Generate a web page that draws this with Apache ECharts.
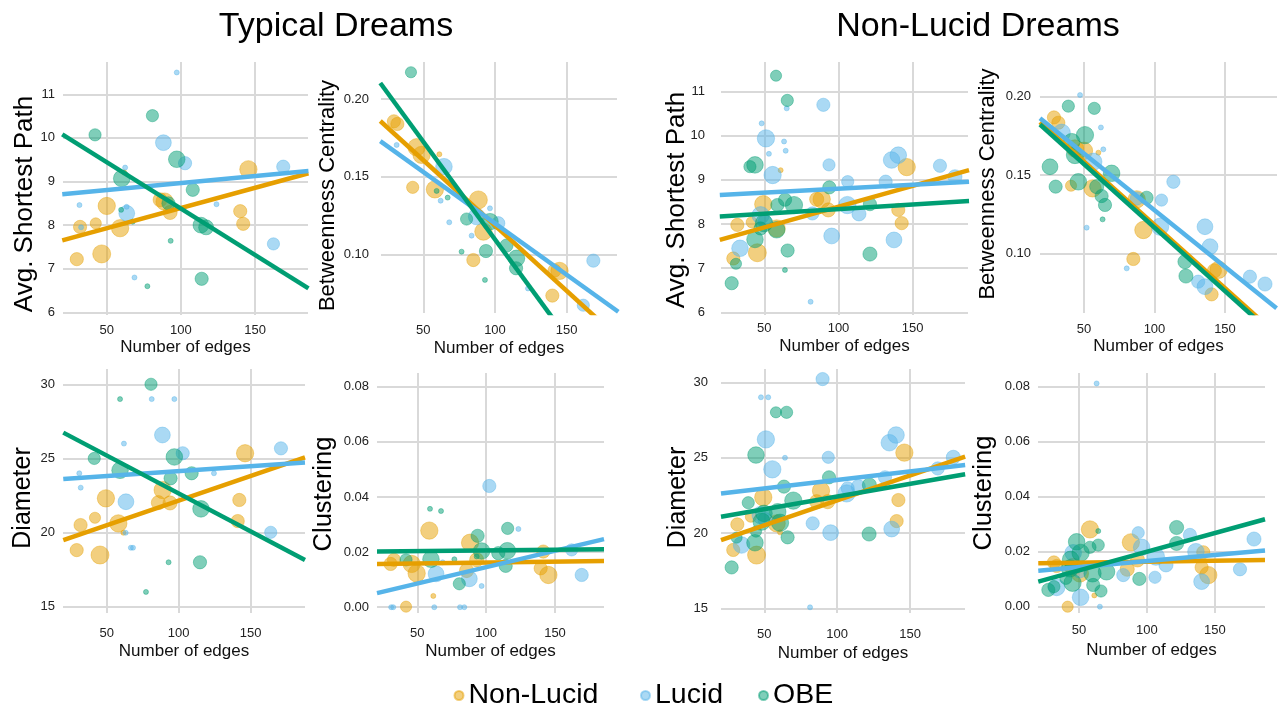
<!DOCTYPE html>
<html>
<head>
<meta charset="utf-8">
<title>Dream network metrics</title>
<script src="https://cdn.jsdelivr.net/npm/echarts@6/dist/echarts.min.js"></script>
<style>
  html, body { margin: 0; padding: 0; background: #fff; }
  #chart { width: 1282px; height: 708px; }
</style>
</head>
<body>
<div id="chart"></div>
<script>
// each point: [number of edges, metric value, weight (point size)]
var groups = ['Non-Lucid', 'Lucid', 'OBE'];
var edgeTicks = [50, 100, 150];
var aspTicks = [6, 7, 8, 9, 10, 11];
var bcTicks = [0.10, 0.15, 0.20];
var diamTicks = [15, 20, 25, 30];
var clusTicks = [0, 0.02, 0.04, 0.06, 0.08];

// ---- Typical dreams ----
var typAspNL = [[29.8,7.22,7],[32,7.96,7],[42.6,8.04,5],[46.6,7.34,13],[50,8.44,12],[59,7.93,12],[61.7,9.21,1],[86,8.58,8],[89,8.54,12],[92.7,8.29,8],[140,8.32,7],[142,8.03,7],[145.5,9.28,12]];
var typAspLU = [[31.6,8.46,1],[32.7,7.95,1],[62.4,9.32,1],[63.5,8.27,10],[63.4,8.42,1],[68.7,6.80,1],[88.2,9.89,10],[97.2,11.5,1],[102.8,9.42,7],[124,8.48,1],[162.4,7.57,6],[169,9.34,7]];
var typAspOBE = [[42.1,10.07,6],[80.8,10.51,6],[60.1,9.07,11],[59.7,8.35,1],[67.5,8.08,1],[97.2,9.51,11],[108,8.81,7],[91.6,8.5,7],[93.1,7.64,1],[77.4,6.6,1],[114,6.77,7],[113.5,8.0,10],[117,7.95,9]];
var typAspFit = [[[20,7.65],[186,9.19]], [[20,8.71],[186,9.24]], [[20,10.08],[186,6.55]]];

var typBcNL = [[29.5,0.1856,7],[31.9,0.1839,7],[42.6,0.1431,6],[45.3,0.1689,12],[48.8,0.164,12],[58.1,0.1418,12],[61.2,0.1644,1],[84.9,0.0963,7],[88.4,0.135,13],[91.9,0.1146,12],[140,0.0734,7],[141.5,0.0895,7],[145,0.0893,12]];
var typBcLU = [[31.4,0.1704,1],[64.4,0.1564,11],[62.1,0.1345,1],[68.1,0.1206,1],[83.7,0.112,1],[96.5,0.1296,1],[102.3,0.12,7],[87.2,0.1243,11],[123,0.078,1],[161.6,0.0672,6],[168.6,0.0959,7]];
var typBcOBE = [[41.4,0.2172,5],[59.3,0.1408,1],[67,0.1365,1],[80.2,0.1227,6],[76.7,0.1017,1],[93,0.0835,1],[93.7,0.1021,7],[96.5,0.121,11],[108,0.1056,7],[115,0.0974,11],[114.7,0.091,7]];
var typBcFit = [[[20,0.1858],[186,0.0462]], [[20,0.1729],[186,0.0630]], [[20,0.2103],[186,0.0013]]];

var typDiamNL = [[29.2,18.82,7],[31.9,20.51,7],[41.9,21.0,5],[45.4,18.49,13],[49.5,22.31,12],[58.1,20.62,12],[61.6,19.99,1],[85.9,22.02,8],[88.9,22.87,12],[94,22.0,8],[142.1,22.2,7],[141,20.78,7],[146.1,25.35,12]];
var typDiamLU = [[31,24.0,1],[32,23.03,1],[62,26.0,1],[63.4,22.08,10],[63.2,19.99,1],[66.8,18.98,1],[68.3,18.98,1],[81.3,29.0,1],[97,29.0,1],[88.7,26.58,10],[102.8,25.35,7],[124.5,24.0,1],[163.9,20.02,6],[171,25.68,7]];
var typDiamOBE = [[41.4,25.0,6],[59.3,29.0,1],[59.3,24.2,11],[80.8,30.0,6],[97,25.1,11],[94.4,23.66,7],[109,24.0,7],[93,18.0,1],[77.3,16.0,1],[114.8,18.0,7],[115.5,21.6,11]];
var typDiamFit = [[[19.9,19.5],[187.7,25.08]], [[19.9,23.61],[187.7,24.72]], [[19.9,26.74],[187.7,18.15]]];

var typClusNL = [[30.6,0.0157,7],[33,0.0172,7],[41.8,0.0002,5],[45.9,0.0157,12],[49.5,0.0123,12],[58.7,0.0278,12],[61.6,0.0041,1],[85.8,0.0133,8],[88.3,0.0234,12],[93.1,0.0172,8],[139.6,0.0141,7],[141.5,0.0202,7],[145.2,0.0117,12]];
var typClusLU = [[31,0,1],[32.5,0,1],[62.3,0,1],[63.6,0.0121,10],[68.4,0.0163,1],[81,0,1],[84.1,0,1],[87.8,0.0103,10],[96.7,0.0077,1],[102.3,0.044,7],[123.4,0.0284,1],[162.1,0.0208,6],[169.4,0.0117,7]];
var typClusOBE = [[41.8,0.0172,6],[59.2,0.0357,1],[67.2,0.0349,1],[59.9,0.0174,11],[76.9,0.0174,1],[80.5,0.0085,6],[93.8,0.0259,7],[96.7,0.0204,11],[93.1,0.0184,1],[108.8,0.0196,7],[115.4,0.0205,11],[115.6,0.0286,6],[114.2,0.015,7]];
var typClusFit = [[[20.7,0.0157],[185.6,0.0168]], [[20.7,0.0051],[185.6,0.0247]], [[20.7,0.0202],[185.6,0.0210]]];

// ---- Non-lucid dreams ----
var nlAspNL = [[29.1,7.22,7],[31.8,7.98,7],[41.5,8.04,5],[45.3,7.35,13],[49.3,8.45,12],[58.3,7.90,12],[61,9.22,1],[85.3,8.56,8],[88.7,8.56,12],[93.1,8.32,8],[140.3,8.32,7],[142.6,8.02,7],[146,9.29,12]];
var nlAspLU = [[48.2,10.28,1],[51.1,9.94,12],[53.1,9.59,1],[63.3,9.87,1],[64.4,9.66,1],[65.1,10.62,1],[55.6,9.11,12],[33.6,7.45,11],[47.5,8.2,12],[50.5,8.05,8],[89.8,10.70,7],[93.6,9.34,6],[106.2,8.96,6],[82.4,8.24,7],[106,8.43,12],[113.8,8.23,8],[95.4,7.73,10],[81.2,6.24,1],[131.8,8.96,7],[135.8,9.45,11],[140.3,9.56,11],[137.4,7.64,10],[168.4,9.32,7],[178.5,9.07,8]];
var nlAspOBE = [[57.9,11.36,5],[65.5,10.8,6],[43.7,9.34,11],[40.3,9.30,6],[28,6.66,7],[30.9,7.10,5],[43.7,7.65,11],[47.5,7.90,7],[58.8,8.43,7],[64,8.55,7],[70,8.43,12],[58.3,7.87,11],[65.7,7.40,7],[63.9,6.96,1],[93.8,8.83,7],[121.2,8.45,7],[121.2,7.32,8],[49.8,8.02,12]];
var nlAspFit = [[[20,7.64],[188,9.22]], [[20,8.66],[188,8.96]], [[20,8.17],[188,8.52]]];

var nlBcNL = [[28.7,0.1868,7],[31.8,0.1834,7],[40.8,0.1432,5],[43.6,0.167,12],[50,0.1655,12],[56.1,0.1415,12],[60.2,0.1643,1],[85,0.0964,7],[87.4,0.1345,12],[92.1,0.1149,12],[140.5,0.0738,7],[142.5,0.0889,8],[145.5,0.0895,12]];
var nlBcLU = [[47.2,0.2011,1],[34.2,0.177,12],[62,0.1804,1],[63.7,0.1664,1],[56.6,0.1585,12],[51.9,0.1164,1],[80.3,0.0904,1],[105,0.134,6],[113.4,0.1457,7],[104,0.117,12],[135.8,0.117,10],[139.4,0.1043,10],[131,0.0819,7],[135.8,0.0787,10],[167.7,0.0851,7],[178.4,0.0804,8],[87.5,0.135,7]];
var nlBcOBE = [[38.9,0.194,6],[57.3,0.1926,6],[25.9,0.1553,10],[29.9,0.1426,7],[41.3,0.1713,11],[50.7,0.1755,12],[43.6,0.1628,12],[46,0.1457,11],[59,0.1426,8],[62.5,0.1366,7],[64.9,0.1309,7],[63.2,0.1217,1],[69.6,0.1511,11],[94.4,0.1355,7],[121.6,0.0947,8],[122.3,0.0855,8]];
var nlBcFit = [[[18.8,0.1838],[188,0.0471]], [[18.8,0.1862],[186.6,0.0649]], [[18.8,0.1823],[188,0.0451]]];

var nlDiamNL = [[28.7,18.88,7],[31.5,20.58,7],[40.8,21.09,5],[44.7,18.54,13],[49.3,22.38,12],[58.5,20.65,12],[60.8,20.05,1],[85.9,22.09,8],[88.9,22.82,12],[93.5,22.09,8],[142,22.2,7],[140.8,20.8,7],[146.1,25.35,12]];
var nlDiamLU = [[47.7,29.03,1],[52.7,29.03,1],[51.1,26.23,12],[55.5,24.24,12],[64.2,25.01,1],[34.4,19.21,11],[47.5,21.2,12],[90,30.24,7],[93.9,25.04,6],[83.2,20.65,7],[95.5,20.03,10],[81.4,15.07,1],[106.5,22.64,12],[107.2,22.98,7],[114.5,23.09,8],[132.8,23.71,7],[135.8,26.01,11],[140.4,26.52,11],[137.4,20.27,10],[169,24.3,7],[179.7,25.04,8],[50.5,20.9,8]];
var nlDiamOBE = [[58,28.03,5],[65.3,28.03,6],[44.3,25.19,11],[39,22.02,6],[31,19.7,5],[27.6,17.72,7],[43.6,19.36,11],[44.3,20.1,5],[48.2,20.76,12],[49.8,21.31,11],[59.2,21.42,11],[60.8,20.69,12],[63.5,23.09,7],[66,19.72,7],[69.9,22.16,12],[94.4,23.71,7],[122.1,23.2,8],[121.9,19.94,8]];
var nlDiamFit = [[[20.3,19.54],[187.8,25.08]], [[20.3,22.64],[187.8,24.53]], [[20.3,21.09],[187.8,23.91]]];

var nlClusNL = [[31.6,0.0161,7],[33.6,0.0148,7],[41.7,0,5],[45.8,0.0145,12],[50.7,0.0121,12],[58.1,0.0281,12],[61.3,0.0041,1],[85.5,0.0136,8],[88.2,0.0234,12],[93.1,0.017,8],[140.2,0.0143,7],[141.4,0.0198,7],[145.1,0.0115,12]];
var nlClusLU = [[63,0.0812,1],[65.4,0,1],[51.2,0.0034,11],[33.6,0.007,11],[45.8,0.0196,11],[50.5,0.013,8],[93.6,0.0269,6],[96.1,0.0216,11],[82.6,0.0115,7],[106.6,0.0182,12],[105.9,0.0107,6],[114,0.0152,8],[131.6,0.0261,7],[136,0.02,11],[140.2,0.0091,10],[168.4,0.0136,7],[178.7,0.0246,8]];
var nlClusOBE = [[27.5,0.0061,7],[31.6,0.0073,6],[43.9,0.0172,11],[48.3,0.0236,11],[51.2,0.0196,12],[43.4,0.0139,12],[45.3,0.0087,12],[40.4,0.0103,6],[60,0.0121,12],[60.5,0.0079,7],[64.2,0.0224,6],[64.2,0.0275,1],[66.2,0.0057,6],[70.3,0.0127,11],[58.1,0.0216,6],[94.4,0.0101,7],[121.8,0.0288,8],[121.8,0.023,8]];
var nlClusFit = [[[20.1,0.0158],[186.8,0.017]], [[20.1,0.0131],[186.8,0.0204]], [[20.1,0.0091],[186.8,0.0318]]];

var colors = ['#E69F00', '#56B4E9', '#009E73'];
var font = '"Liberation Sans", Arial, Helvetica, sans-serif';

// layout of the 8 panels (pixels) and axis ranges; title = centre of the rotated y title
var panels = [
    {grid: {left: 63, top: 62, width: 245, height: 253}, x: [20.5, 185.7], y: [5.94, 11.74], ticks: aspTicks, dec: 0,
     name: 'Avg. Shortest Path', nameSize: 26, title: [25, 204], yMargin: 8, xMargin: 9, xGap: 24, pts: [typAspNL, typAspLU, typAspOBE], fit: typAspFit},
    {grid: {left: 381, top: 62, width: 236, height: 251}, x: [20.5, 185.1], y: [0.0622, 0.2238], ticks: bcTicks, dec: 2,
     name: 'Betweenness Centrality', nameSize: 22, title: [327.5, 195.5], yMargin: 12, xMargin: 11, xGap: 27, pts: [typBcNL, typBcLU, typBcOBE], fit: typBcFit},
    {grid: {left: 721, top: 62, width: 247, height: 253}, x: [20.8, 187.3], y: [5.94, 11.67], ticks: aspTicks, dec: 0,
     name: 'Avg. Shortest Path', nameSize: 26, title: [677, 200], yMargin: 16, xMargin: 7, xGap: 23, pts: [nlAspNL, nlAspLU, nlAspOBE], fit: nlAspFit},
    {grid: {left: 1040, top: 62, width: 237, height: 251}, x: [18.8, 186.9], y: [0.0619, 0.2222], ticks: bcTicks, dec: 2,
     name: 'Betweenness Centrality', nameSize: 22, title: [987.5, 184], yMargin: 9, xMargin: 10, xGap: 25, pts: [nlBcNL, nlBcLU, nlBcOBE], fit: nlBcFit},
    {grid: {left: 63, top: 369, width: 242, height: 244}, x: [19.7, 187.7], y: [14.58, 31.03], ticks: diamTicks, dec: 0,
     name: 'Diameter', nameSize: 25, title: [23, 498], yMargin: 8, xMargin: 14, xGap: 30, pts: [typDiamNL, typDiamLU, typDiamOBE], fit: typDiamFit},
    {grid: {left: 377, top: 373, width: 227, height: 240}, x: [20.7, 185.6], y: [-0.0021, 0.085], ticks: clusTicks, dec: 2,
     name: 'Clustering', nameSize: 25.5, title: [324, 494], yMargin: 8, xMargin: 14, xGap: 30, pts: [typClusNL, typClusLU, typClusOBE], fit: typClusFit},
    {grid: {left: 721, top: 369, width: 244, height: 244}, x: [20.3, 187.7], y: [14.69, 30.91], ticks: diamTicks, dec: 0,
     name: 'Diameter', nameSize: 25, title: [678, 497.5], yMargin: 13, xMargin: 15, xGap: 32, pts: [nlDiamNL, nlDiamLU, nlDiamOBE], fit: nlDiamFit},
    {grid: {left: 1038, top: 373, width: 227, height: 240}, x: [19.9, 186.8], y: [-0.0023, 0.085], ticks: clusTicks, dec: 2,
     name: 'Clustering', nameSize: 25.5, title: [984, 493], yMargin: 8, xMargin: 11, xGap: 29, pts: [nlClusNL, nlClusLU, nlClusOBE], fit: nlClusFit}
];

var grids = [], xAxes = [], yAxes = [], series = [], texts = [];
var gridLine = {show: true, lineStyle: {color: '#d9d9d9', width: 2}};

panels.forEach(function (p, i) {
    grids.push(p.grid);
    xAxes.push({
        gridIndex: i, type: 'value', min: p.x[0], max: p.x[1],
        name: 'Number of edges', nameLocation: 'middle', nameGap: p.xGap,
        nameTextStyle: {fontSize: 17, color: '#111', fontFamily: font},
        axisLine: {show: false},
        axisTick: {show: false, customValues: edgeTicks},
        axisLabel: {customValues: edgeTicks, margin: p.xMargin, fontSize: 13, color: '#222', fontFamily: font},
        splitLine: gridLine
    });
    yAxes.push({
        gridIndex: i, type: 'value', min: p.y[0], max: p.y[1],
        axisLine: {show: false},
        axisTick: {show: false, customValues: p.ticks},
        axisLabel: {
            customValues: p.ticks, margin: p.yMargin, fontSize: 13, color: '#222', fontFamily: font,
            formatter: (function (d) { return function (v) { return v.toFixed(d); }; })(p.dec)
        },
        splitLine: gridLine
    });
    // y title as a rotated text, placed like in the original figure
    texts.push({
        type: 'text', x: p.title[0], y: p.title[1], rotation: Math.PI / 2,
        style: {text: p.name, font: p.nameSize + 'px ' + font, fill: '#000', textAlign: 'center', textVerticalAlign: 'middle'}
    });
    p.pts.forEach(function (pts, g) {
        series.push({
            name: groups[g], type: 'scatter', xAxisIndex: i, yAxisIndex: i,
            data: pts, z: 2,
            symbolSize: function (v) { return 5 * Math.sqrt(v[2]); },
            itemStyle: {color: colors[g], opacity: 0.5, borderColor: colors[g], borderWidth: 0.8},
            emphasis: {disabled: true}
        });
    });
    p.fit.forEach(function (line, g) {
        series.push({
            name: groups[g] + ' fit', type: 'line', xAxisIndex: i, yAxisIndex: i,
            data: line, showSymbol: false, symbol: 'none', z: 3, silent: true, clip: true,
            lineStyle: {color: colors[g], width: 4.5}
        });
    });
});

texts.push(
    {type: 'text', x: 336, y: 27, style: {text: 'Typical Dreams', font: '34px ' + font, fill: '#000', textAlign: 'center', textVerticalAlign: 'middle'}},
    {type: 'text', x: 978, y: 27, style: {text: 'Non-Lucid Dreams', font: '34px ' + font, fill: '#000', textAlign: 'center', textVerticalAlign: 'middle'}}
);

var legendLeft = [453.5, 640, 758];
var legends = groups.map(function (g, k) {
    return {
        data: [{name: g, itemStyle: {color: colors[k], opacity: 0.5}}],
        left: legendLeft[k], top: 681, padding: 0,
        icon: 'circle', itemWidth: 9, itemHeight: 9,
        textStyle: {fontSize: 28.5, color: '#000', fontFamily: font},
        selectedMode: false
    };
});

var myChart = echarts.init(document.getElementById('chart'));
myChart.setOption({
    animation: false,
    backgroundColor: '#fff',
    textStyle: {fontFamily: font},
    grid: grids,
    xAxis: xAxes,
    yAxis: yAxes,
    series: series,
    legend: legends,
    graphic: texts
});
</script>
</body>
</html>
